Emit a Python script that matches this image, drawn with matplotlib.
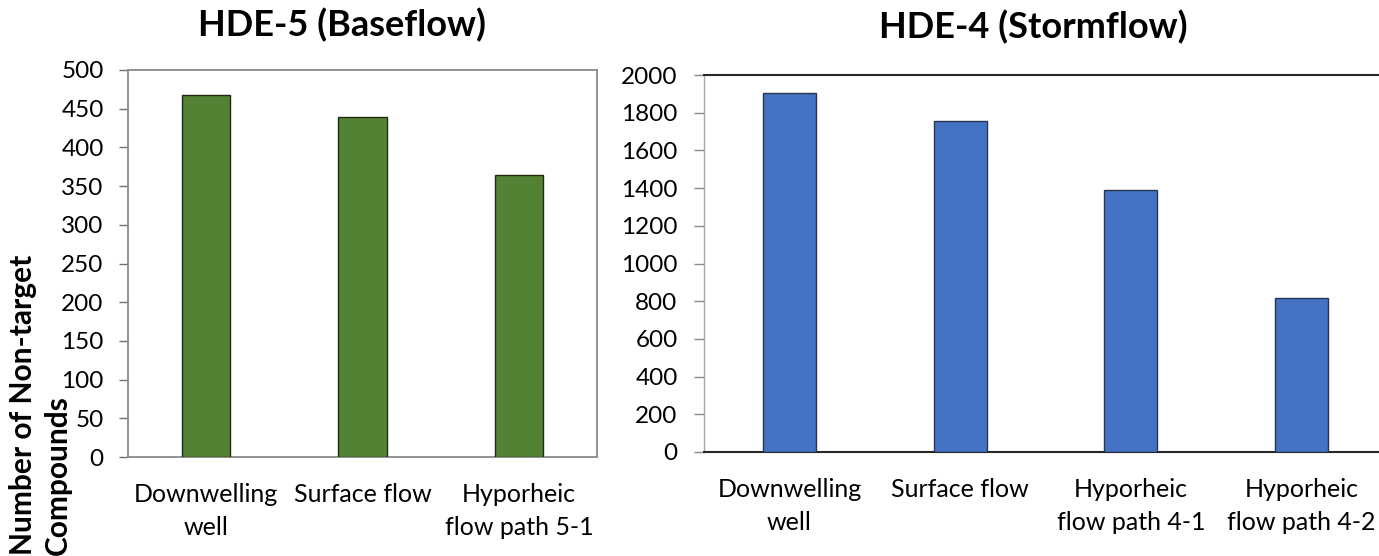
import matplotlib
matplotlib.use("Agg")
import matplotlib.pyplot as plt

plt.rcParams['font.family'] = ['Lato', 'DejaVu Sans']

# Non-target compound counts per sampling location
base_categories = ["Downwelling\nwell", "Surface flow", "Hyporheic\nflow path 5-1"]
base_counts = [468, 439, 364]
base_ticks = [0, 50, 100, 150, 200, 250, 300, 350, 400, 450, 500]

storm_categories = ["Downwelling\nwell", "Surface flow", "Hyporheic\nflow path 4-1",
                    "Hyporheic\nflow path 4-2"]
storm_counts = [1905, 1755, 1390, 817]
storm_ticks = [0, 200, 400, 600, 800, 1000, 1200, 1400, 1600, 1800, 2000]

W, H = 1379, 556
fig = plt.figure(figsize=(W / 100, H / 100), dpi=100)


def px_axes(left, top, right, bottom):
    return fig.add_axes([left / W, 1 - bottom / H, (right - left) / W, (bottom - top) / H])


ytick_size = 17.5
xtick_size = 18

# Baseflow panel
ax1 = px_axes(128, 70, 597, 457)
x1 = range(len(base_categories))
ax1.bar(x1, base_counts, width=0.31, color="#548235", edgecolor="#1e2a14", linewidth=1.0, zorder=3)
ax1.set_xlim(-0.5, len(base_categories) - 0.5)
ax1.set_ylim(0, 500)
ax1.set_yticks(base_ticks)
ax1.set_xticks(list(x1))
ax1.set_xticklabels(base_categories, fontsize=xtick_size, linespacing=1.5)
for s in ax1.spines.values():
    s.set_color("#8a8a8a")
    s.set_linewidth(1.3)
ax1.tick_params(axis="y", direction="out", length=6.5, width=1.0, color="#6f6f6f",
                labelsize=ytick_size, pad=11)
ax1.tick_params(axis="x", length=0, pad=19)

# Stormflow panel
ax2 = px_axes(704, 75, 1387, 452)
x2 = range(len(storm_categories))
ax2.bar(x2, storm_counts, width=0.31, color="#4472C4", edgecolor="#2a3550", linewidth=1.0, zorder=3)
ax2.set_xlim(-0.5, len(storm_categories) - 0.5)
ax2.set_ylim(0, 2000)
ax2.set_yticks(storm_ticks)
ax2.set_xticks(list(x2))
ax2.set_xticklabels(storm_categories, fontsize=xtick_size, linespacing=1.5)
ax2.spines["left"].set_color("#a6a6a6")
ax2.spines["left"].set_linewidth(1.0)
for side in ("top", "bottom", "right"):
    ax2.spines[side].set_color("#262626")
    ax2.spines[side].set_linewidth(1.5)
ax2.tick_params(axis="y", direction="out", length=7, width=1.0, color="#8a8a8a",
                labelsize=ytick_size, pad=12)
ax2.tick_params(axis="x", length=0, pad=19)

# Panel titles
fig.text(342 / W, 1 - 25 / H, "HDE-5 (Baseflow)", ha="center", va="center",
         fontsize=26, fontweight="bold")
fig.text(1033 / W, 1 - 27 / H, "HDE-4 (Stormflow)", ha="center", va="center",
         fontsize=26, fontweight="bold")

# Shared y-axis title
fig.text(40 / W, 1 - 555 / H, "Number of Non-target\nCompounds", rotation=90,
         ha="center", va="bottom", multialignment="left", fontsize=21.5,
         fontweight="bold", linespacing=1.3)

fig.savefig("out.png", dpi=100)
